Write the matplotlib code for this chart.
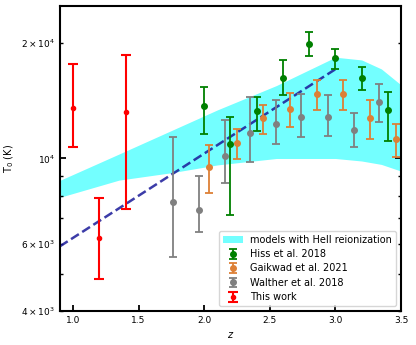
import matplotlib
matplotlib.use("Agg")
import matplotlib.pyplot as plt
import numpy as np

# Model band (HeII reionization)
band_z = [0.9, 1.35, 1.75, 2.1, 2.55, 3.0, 3.2, 3.35, 3.5]
band_upper = [8770, 10270, 11830, 13390, 15500, 18380, 18080, 17130, 15560]
band_lower = [7920, 8780, 9180, 9620, 10000, 10000, 9850, 9650, 9270]

# Dashed fit line
fit_z = [0.9, 3.0]
fit_T = [5900, 17100]

# Hiss et al. 2018
hiss_z = [2.0, 2.2, 2.4, 2.6, 2.8, 3.0, 3.2, 3.4]
hiss_T = [13700, 10920, 13320, 16230, 19930, 18300, 16200, 13410]
hiss_up = [15380, 12860, 14490, 18110, 21330, 19350, 17330, 14930]
hiss_lo = [11590, 7100, 11800, 14660, 18480, 17110, 15070, 11140]

# Gaikwad et al. 2021
gaik_z = [2.04, 2.25, 2.45, 2.65, 2.86, 3.06, 3.26, 3.46]
gaik_T = [9490, 11000, 12730, 13460, 14730, 14730, 12730, 11250]
gaik_up = [10870, 11970, 13830, 14860, 16010, 16010, 14200, 12330]
gaik_lo = [8110, 9980, 11610, 12110, 13410, 13410, 11250, 10100]

# Walther et al. 2018
walt_z = [1.76, 1.96, 2.16, 2.35, 2.55, 2.74, 2.94, 3.14, 3.33]
walt_T = [7690, 7340, 10140, 11660, 12310, 12830, 12860, 11850, 14000]
walt_up = [11360, 9000, 12570, 14490, 14200, 14690, 14640, 13170, 15630]
walt_lo = [5520, 6440, 8650, 9780, 10940, 11380, 11430, 10700, 12450]

# This work
this_z = [1.0, 1.2, 1.4]
this_T = [13540, 6200, 13190]
this_up = [17620, 7880, 18630]
this_lo = [10700, 4850, 7400]

def yerr(T, up, lo):
    T = np.asarray(T, float)
    return np.vstack([T - np.asarray(lo, float), np.asarray(up, float) - T])

fs = 6.5
plt.rcParams['font.size'] = fs
fig = plt.figure(figsize=(4.16, 3.45), dpi=100)
ax = fig.add_axes([0.144, 0.0986, 0.82, 0.884])

ax.fill_between(band_z, band_lower, band_upper, color='cyan', alpha=0.55,
                linewidth=0, label='models with HeII reionization')
ax.plot(fit_z, fit_T, ls='--', color='#1a1a99', alpha=0.85, lw=1.8)

ekw = dict(fmt='o', ms=4, elinewidth=1.3, capsize=3, capthick=1.3)
ax.errorbar(hiss_z, hiss_T, yerr=yerr(hiss_T, hiss_up, hiss_lo), color='green',
            label='Hiss et al. 2018', **ekw)
ax.errorbar(gaik_z, gaik_T, yerr=yerr(gaik_T, gaik_up, gaik_lo), color='#dd8036',
            label='Gaikwad et al. 2021', **ekw)
ax.errorbar(walt_z, walt_T, yerr=yerr(walt_T, walt_up, walt_lo), color='grey',
            label='Walther et al. 2018', **ekw)
ax.errorbar(this_z, this_T, yerr=yerr(this_T, this_up, this_lo), color='red',
            fmt='o', ms=3, elinewidth=1.5, capsize=3.5, capthick=1.5,
            label='This work')

ax.set_yscale('log')
ax.set_xlim(0.9, 3.5)
ax.set_ylim(4000, 25000)
ax.set_xticks([1.0, 1.5, 2.0, 2.5, 3.0, 3.5])
ax.set_xlabel('$z$', fontsize=7)
ax.set_ylabel('T$_0$ (K)', fontsize=7)

for s in ax.spines.values():
    s.set_linewidth(1.5)
ax.tick_params(which='both', direction='in', right=True, labelsize=fs)
ax.tick_params(which='major', length=4, width=1.3)
ax.tick_params(which='minor', length=2.5, width=1.0)
ax.tick_params(axis='x', which='minor', bottom=False)

ax.legend(loc='lower right', fontsize=7, labelspacing=0.45)

fig.savefig('out.png', dpi=100)
